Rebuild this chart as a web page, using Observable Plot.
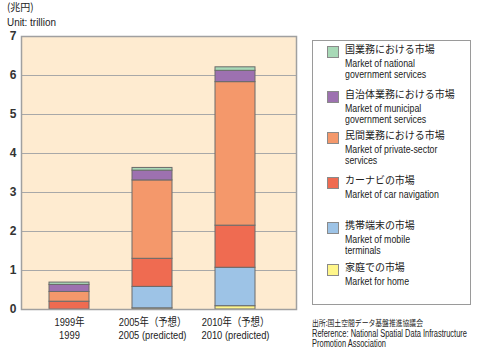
<!DOCTYPE html>
<html><head><meta charset="utf-8">
<script src="https://cdn.jsdelivr.net/npm/d3@7"></script>
<script src="https://cdn.jsdelivr.net/npm/@observablehq/plot@0.6"></script>
<style>
body{margin:0;background:#fff;font-family:"Liberation Sans",Arial,sans-serif;}
#wrap{position:relative;width:477px;height:353px;overflow:hidden;}
#chart{position:absolute;left:0;top:0;}
.t{position:absolute;white-space:nowrap;color:#222;font-family:"Liberation Sans",Arial,sans-serif;font-size:11px;line-height:1;transform-origin:0 0;transform:scaleX(0.8);}
.jp{font-family:"Noto Sans CJK JP",sans-serif;font-size:10.5px;line-height:1.2;transform:scaleX(0.95);}
#legend{position:absolute;left:312px;top:40px;width:157px;height:263px;border:1px solid #9a9a9a;background:#fff;}
.sw{position:absolute;width:10px;height:10px;border:1px solid #8a8a8a;}
</style></head>
<body><div id="wrap"><div id="chart"></div></div>
<script>
const years = ["1999年\n1999", "2005年（予想）\n2005 (predicted)", "2010年（予想）\n2010 (predicted)"];
const seriesJP = ["家庭での市場", "携帯端末の市場", "カーナビの市場", "民間業務における市場", "自治体業務における市場", "国業務における市場"];
const seriesEN = ["Market for home", "Market of mobile\nterminals", "Market of car navigation", "Market of private-sector\nservices", "Market of municipal\ngovernment  services", "Market of national\ngovernment  services"];
const colors = ["#fff68a", "#9dc3e6", "#ef6b51", "#f4986b", "#9d71b0", "#a8d9b7"];
// values per series (bottom to top), for 1999, 2005, 2010
const home = [0, 0.03, 0.085];
const mobile = [0, 0.55, 0.985];
const carNav = [0.2, 0.72, 1.08];
const privateSector = [0.25, 2.01, 3.68];
const municipal = [0.18, 0.25, 0.29];
const national = [0.06, 0.07, 0.09];
const yTicks = [0, 1, 2, 3, 4, 5, 6, 7];

const seriesValues = [home, mobile, carNav, privateSector, municipal, national];
const data = [];
years.forEach((yr, i) => seriesValues.forEach((vals, s) => data.push({year: yr, series: seriesJP[s], value: vals[i]})));

const chart = Plot.plot({
  width: 477, height: 353,
  marginTop: 36, marginBottom: 44, marginLeft: 21, marginRight: 181,
  style: {fontFamily: '"Liberation Sans","Noto Sans CJK JP",sans-serif', fontSize: "11px", color: "#222", background: "transparent"},
  x: {domain: years, paddingInner: 0.52, paddingOuter: 0.4, align: 0.4, label: null},
  y: {domain: [0, 7], label: null},
  color: {domain: seriesJP, range: colors},
  marks: [
    Plot.frame({fill: "#feebd0", stroke: "none"}),
    Plot.gridY(yTicks, {stroke: "#a8a8a8", strokeOpacity: 1, strokeWidth: 1}),
    Plot.barY(data, {x: "year", y: "value", fill: "series", stroke: "#6a6a6a", strokeWidth: 1}),
    Plot.frame({stroke: "#a0a0a0", strokeWidth: 1.5}),
    Plot.axisY(yTicks, {tickSize: 0, tickPadding: 5, fontSize: 12, fontWeight: "bold", fill: "#333", fontFamily: "Liberation Sans, sans-serif"}),
    Plot.axisX({tickSize: 0, tickPadding: 7, fontSize: 11, lineHeight: 1.2, fill: "#222", fontFamily: '"Liberation Sans","Noto Sans CJK JP",sans-serif'})
  ]
});
// condense the x tick labels horizontally (narrow face look)
chart.querySelectorAll("g[aria-label='x-axis tick label'] text").forEach(t => {
  const tr = t.getAttribute("transform") || "";
  t.setAttribute("transform", tr + " scale(0.85,1)");
});
document.getElementById("chart").appendChild(chart);

const wrap = document.getElementById("wrap");
function addText(html, x, y, cls, parent) {
  const d = document.createElement("div");
  d.className = "t " + (cls || "");
  d.style.left = x + "px"; d.style.top = y + "px";
  d.innerHTML = html;
  (parent || wrap).appendChild(d);
  return d;
}
function fitWidth(el, w) {
  el.style.transform = "none";
  const natural = el.getBoundingClientRect().width;
  el.style.transform = "scaleX(" + Math.min(1, w / natural) + ")";
}
addText("(兆円)", 7, 1, "jp");
const unit = addText("Unit: trillion", 7, 17);
unit.style.transform = "scaleX(0.9)";

const legend = document.createElement("div");
legend.id = "legend";
wrap.appendChild(legend);
// legend items top to bottom
const order = [5, 4, 3, 2, 1, 0];
const itemTops = [46, 91, 132, 177, 222, 264];
order.forEach((s, k) => {
  const top = itemTops[k] - 41;
  const sw = document.createElement("div");
  sw.className = "sw";
  sw.style.left = "14px";
  sw.style.top = top + "px";
  sw.style.background = colors[s];
  legend.appendChild(sw);
  addText(seriesJP[s], 32, top - 3, "jp", legend);
  const en = addText(seriesEN[s].replace("\n", "<br>"), 32, top + 12, "", legend);
  en.style.lineHeight = "11px";
});
const src = addText("出所:国土空間データ基盤推進協議会", 312, 317, "jp");
src.style.fontSize = "8.5px";
fitWidth(src, 111);
const ref = addText("Reference: National Spatial Data Infrastructure<br>Promotion Association", 312, 329);
ref.style.lineHeight = "10px";
ref.style.fontSize = "10px";
fitWidth(ref, 155);
</script></body></html>
